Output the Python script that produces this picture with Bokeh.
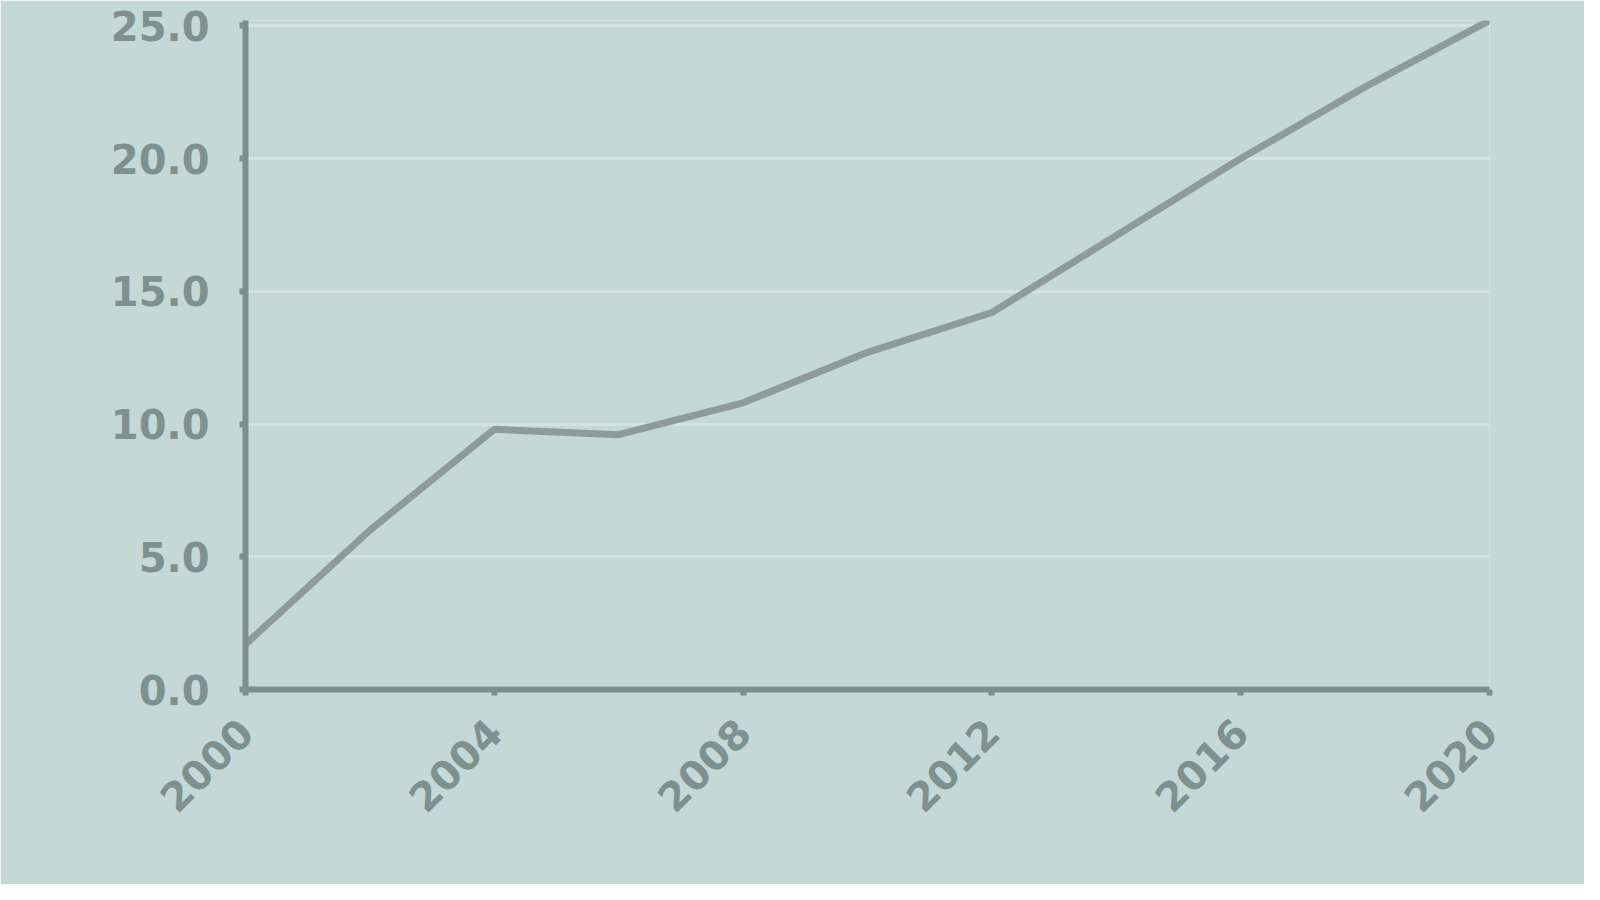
from math import pi

from bokeh.embed import file_html
from bokeh.models import FixedTicker
from bokeh.plotting import figure
from bokeh.resources import INLINE

# values
years = [2000, 2002, 2004, 2006, 2008, 2010, 2012, 2014, 2016, 2018, 2020]
values = [1.7, 6.0, 9.8, 9.6, 10.8, 12.7, 14.2, 17.1, 20.0, 22.7, 25.2]
x_ticks = [2000, 2004, 2008, 2012, 2016, 2020]
y_ticks = [0, 5, 10, 15, 20, 25]
y_labels = ["0.0", "5.0", "10.0", "15.0", "20.0", "25.0"]

bg = "#c4d8d5"
ink = "#7b8f8d"

p = figure(width=1584, height=884, x_range=(2000, 2020), y_range=(0, 25.2),
           output_backend="svg", toolbar_location=None,
           background_fill_color=bg, border_fill_color=bg,
           min_border_left=245, min_border_right=95,
           min_border_top=20, min_border_bottom=195)
p.outline_line_color = None

p.line(years, values, line_color="#8e9b99", line_width=7)

p.xaxis.ticker = FixedTicker(ticks=x_ticks)
p.yaxis.ticker = FixedTicker(ticks=y_ticks)
p.yaxis.major_label_overrides = {t: s for t, s in zip(y_ticks, y_labels)}
p.xaxis.major_label_orientation = pi / 4

for ax in (p.xaxis, p.yaxis):
    ax.axis_line_color = ink
    ax.axis_line_width = 6
    ax.major_tick_line_color = ink
    ax.major_tick_line_width = 6
    ax.major_tick_out = 6
    ax.major_tick_in = 0
    ax.minor_tick_line_color = None
    ax.major_label_text_color = "#7d918f"
    ax.major_label_text_font_size = "40px"
    ax.major_label_text_font_style = "bold"
    ax.major_label_text_font = "DejaVu Sans"
    ax.major_label_standoff = 30

p.xgrid.grid_line_color = None
p.ygrid.grid_line_color = "#d3e3e0"
p.ygrid.grid_line_width = 3

open("out.html", "w").write(file_html(p, INLINE))
